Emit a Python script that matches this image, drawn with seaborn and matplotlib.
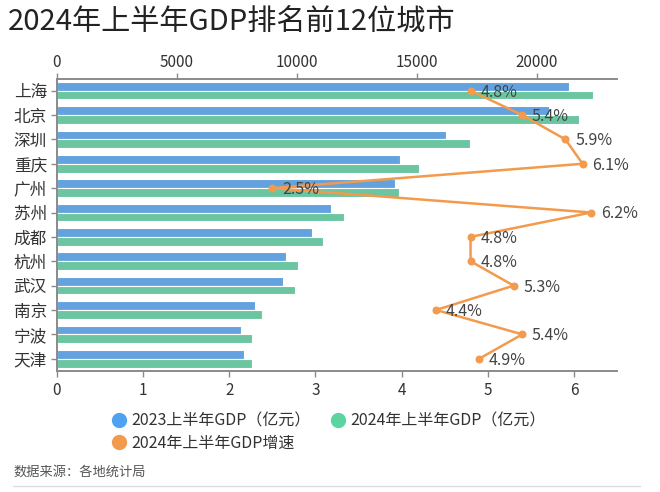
import pandas as pd
import numpy as np
import matplotlib
matplotlib.use('Agg')
import matplotlib.pyplot as plt
from matplotlib.lines import Line2D
import seaborn as sns

# Data
cities = ['上海', '北京', '深圳', '重庆', '广州', '苏州', '成都', '杭州', '武汉', '南京', '宁波', '天津']
gdp_2023 = [21350, 20520, 16220, 14310, 14100, 11430, 10640, 9540, 9430, 8250, 7680, 7790]
gdp_2024 = [22350, 21750, 17220, 15110, 14270, 11970, 11080, 10070, 9920, 8560, 8150, 8130]
growth = [4.8, 5.4, 5.9, 6.1, 2.5, 6.2, 4.8, 4.8, 5.3, 4.4, 5.4, 4.9]
top_ticks = [0, 5000, 10000, 15000, 20000]
bottom_ticks = [0, 1, 2, 3, 4, 5, 6]

label_23 = '2023上半年GDP（亿元）'
label_24 = '2024年上半年GDP（亿元）'
label_gr = '2024年上半年GDP增速'

blue = '#4FA2F2'
green = '#5CD4A2'
orange = '#F39A4C'
text_col = '#333333'
spine_col = '#8a8a8a'

sns.set_style('white')
plt.rcParams['font.family'] = ['Noto Sans CJK SC', 'DejaVu Sans']

df = pd.DataFrame({
    'city': cities * 2,
    'gdp': gdp_2023 + gdp_2024,
    'series': [label_23] * len(cities) + [label_24] * len(cities),
})

fig = plt.figure(figsize=(6.6, 4.92), dpi=100)
ax = fig.add_axes([0.086, 0.2466, 0.849, 0.5929])

sns.barplot(data=df, y='city', x='gdp', hue='series', orient='h',
            palette=[blue, green], width=0.72, edgecolor='white',
            linewidth=0.8, legend=False, ax=ax)

# growth line on a second x axis
ax2 = ax.twiny()
sns.lineplot(x=growth, y=np.arange(len(cities)), sort=False, orient='y',
             color=orange, linewidth=1.8, marker='o', markersize=5,
             markeredgecolor=orange, ax=ax2)
for i, g in enumerate(growth):
    ax2.annotate(f'{g}%', (g, i), textcoords='offset points', xytext=(7, -1),
                 ha='left', va='center', fontsize=11.5, color='#444444')

ylims = (11.49, -0.48)

# GDP axis on top
ax.set_xlim(0, 23350)
ax.set_ylim(*ylims)
ax.set_xticks(top_ticks)
ax.set_xlabel('')
ax.set_ylabel('')
ax.xaxis.tick_top()
ax.tick_params(axis='x', top=True, bottom=False, labeltop=True,
               labelbottom=False, length=4, width=1, color=spine_col,
               labelsize=11, labelcolor=text_col, pad=2)
ax.tick_params(axis='y', left=True, length=4, width=1, color=spine_col,
               labelsize=12, labelcolor=text_col, pad=3)

# growth axis on bottom
ax2.set_xlim(0, 6.5)
ax2.set_ylim(*ylims)
ax2.set_xticks(bottom_ticks)
ax2.xaxis.tick_bottom()
ax2.tick_params(axis='x', top=False, bottom=True, labeltop=False, labelbottom=True,
                length=4, width=1, color=spine_col, labelsize=11,
                labelcolor=text_col, pad=4)

for a in (ax, ax2):
    a.spines['right'].set_visible(False)
    for s in ['top', 'bottom', 'left']:
        a.spines[s].set_color(spine_col)
        a.spines[s].set_linewidth(1.2)

# title
fig.text(0.012, 1 - 22 / 492, '2024年上半年GDP排名前12位城市', fontsize=21,
         color='#222222', va='center', ha='left')

# legend
handles = [
    Line2D([], [], marker='o', linestyle='none', markersize=10,
           markerfacecolor=blue, markeredgecolor=blue, label=label_23),
    Line2D([], [], marker='o', linestyle='none', markersize=10,
           markerfacecolor=orange, markeredgecolor=orange, label=label_gr),
    Line2D([], [], marker='o', linestyle='none', markersize=10,
           markerfacecolor=green, markeredgecolor=green, label=label_24),
]
fig.legend(handles=handles, ncol=2, loc='upper left',
           bbox_to_anchor=(0.146, 1 - 398 / 492), frameon=False,
           fontsize=11.5, handletextpad=0.3, columnspacing=1.2,
           labelspacing=0.35, labelcolor=text_col, handlelength=1.0)

# source note and bottom rule
fig.text(0.02, 1 - 472 / 492, '数据来源：各地统计局', fontsize=9.5,
         color='#555555', va='center', ha='left')
fig.add_artist(Line2D([0.02, 0.97], [1 - 486 / 492] * 2, color='#dddddd',
                      linewidth=1, transform=fig.transFigure))

plt.savefig('out.png', dpi=100)
